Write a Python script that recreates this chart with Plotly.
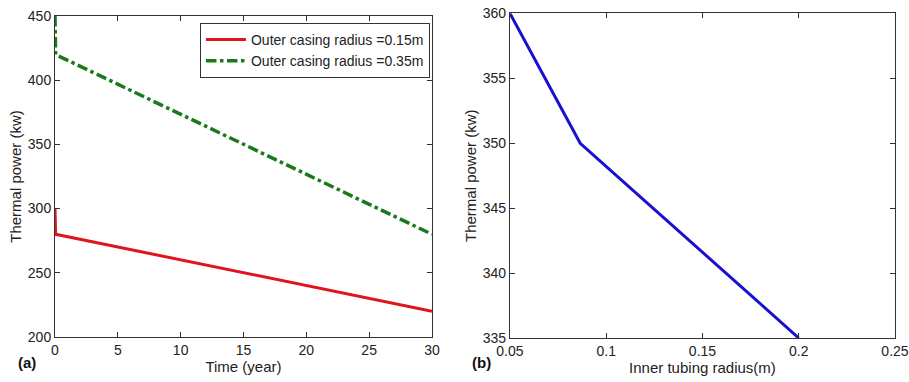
import plotly.graph_objects as go

# Panel (a)
time_red = [0, 0.05, 30]
power_red = [300, 280, 220]
time_green = [0, 0.05, 30]
power_green = [450, 420, 280]
# Panel (b)
inner_radius = [0.05, 0.0865, 0.2]
power_b = [360, 350, 335]

FONT = "Liberation Sans, Arial, sans-serif"
TXT = "#222"

fig = go.Figure()
fig.add_trace(go.Scatter(x=time_red, y=power_red, mode="lines",
                         line=dict(color="#e0141e", width=3),
                         name="Outer casing radius =0.15m", xaxis="x", yaxis="y"))
fig.add_trace(go.Scatter(x=time_green, y=power_green, mode="lines",
                         line=dict(color="#1a7a1a", width=3.5, dash="dashdot"),
                         name="Outer casing radius =0.35m", xaxis="x", yaxis="y"))
fig.add_trace(go.Scatter(x=inner_radius, y=power_b, mode="lines",
                         line=dict(color="#1a10d0", width=3),
                         showlegend=False, xaxis="x2", yaxis="y2"))

ax = dict(showline=True, linecolor="#333", linewidth=1, mirror="ticks",
          ticks="inside", ticklen=5, tickcolor="#333", showgrid=False,
          zeroline=False, automargin=False,
          tickfont=dict(family=FONT, size=14, color=TXT))

fig.update_layout(
    width=909, height=382,
    margin=dict(l=0, r=0, t=0, b=0),
    paper_bgcolor="white", plot_bgcolor="white",
    font=dict(family=FONT, color=TXT),
    xaxis=dict(ax, domain=[0.0605, 0.4752], range=[0, 30], tickvals=[0, 5, 10, 15, 20, 25, 30],
               anchor="y", title=dict(text="Time (year)", font=dict(size=15), standoff=0)),
    yaxis=dict(ax, domain=[0.118, 0.958], range=[200, 450], tickvals=[200, 250, 300, 350, 400, 450],
               anchor="x", title=dict(text="Thermal power (kw)", font=dict(size=15), standoff=2)),
    xaxis2=dict(ax, domain=[0.561, 0.9846], range=[0.05, 0.25], tickvals=[0.05, 0.1, 0.15, 0.2, 0.25],
                ticktext=["0.05", "0.1", "0.15", "0.2", "0.25"],
                anchor="y2", title=dict(text="Inner tubing radius(m)", font=dict(size=15), standoff=0)),
    yaxis2=dict(ax, domain=[0.115, 0.965], range=[335, 360], tickvals=[335, 340, 345, 350, 355, 360],
                anchor="x2", title=dict(text="Thermal power (kw)", font=dict(size=15), standoff=2)),
    legend=dict(x=0.4730, y=0.94, xanchor="right", yanchor="top",
                bordercolor="#333", borderwidth=1, bgcolor="white",
                font=dict(family=FONT, size=14, color=TXT), tracegroupgap=0,
                itemwidth=40),
    annotations=[
        dict(text="<b>(a)</b>", x=0.030, y=0.052, xref="paper", yref="paper",
             xanchor="center", yanchor="middle",
             showarrow=False, font=dict(size=15, family=FONT, color="#111")),
        dict(text="<b>(b)</b>", x=0.530, y=0.052, xref="paper", yref="paper",
             xanchor="center", yanchor="middle",
             showarrow=False, font=dict(size=15, family=FONT, color="#111")),
    ],
)

fig.write_html("out.html")
